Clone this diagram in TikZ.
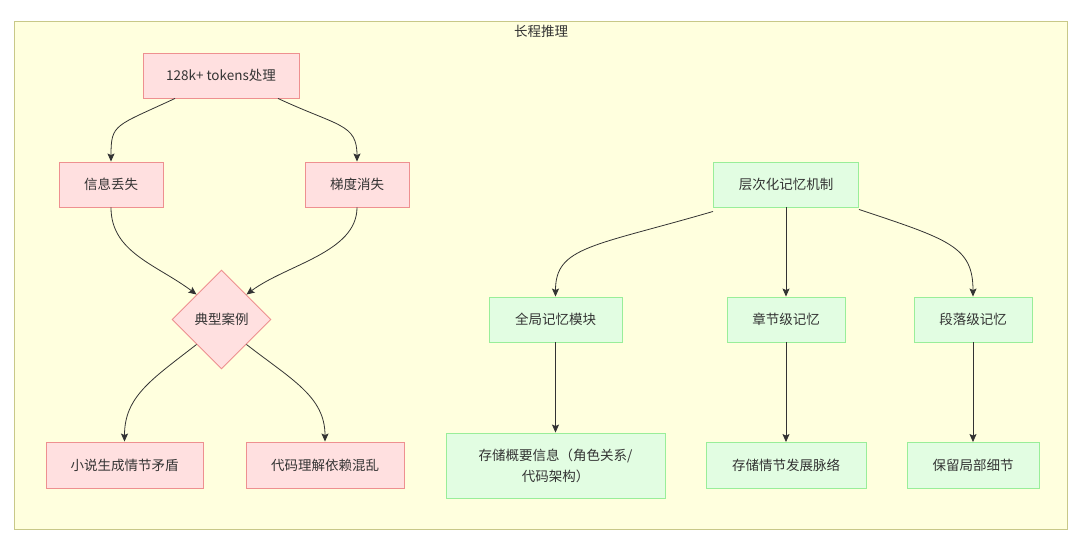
\documentclass[tikz,border=0pt]{standalone}
\usepackage{fontspec}
\setmainfont{Noto Sans CJK SC}
\usepackage{xcolor}
\usetikzlibrary{shapes.geometric, arrows.meta}

\definecolor{clusterfill}{HTML}{FFFFDE}
\definecolor{clusterline}{HTML}{C8C888}
\definecolor{redfill}{HTML}{FFE0E0}
\definecolor{redline}{HTML}{EE9090}
\definecolor{greenfill}{HTML}{E2FDE2}
\definecolor{greenline}{HTML}{99EE99}
\definecolor{ink}{HTML}{333333}

\begin{document}
\begin{tikzpicture}[x=1pt, y=-1pt,
    redbox/.style={draw=redline, fill=redfill, line width=0.9pt, inner sep=0pt,
        minimum height=45pt, text=ink, font=\fontsize{13.5}{21}\selectfont},
    greenbox/.style={draw=greenline, fill=greenfill, line width=0.9pt, inner sep=0pt,
        minimum height=45pt, text=ink, font=\fontsize{13.5}{21}\selectfont},
    flow/.style={draw=ink, line width=0.8pt, -{Stealth[length=8pt, width=7pt, inset=1.5pt]}}]
    \useasboundingbox (0,0) rectangle (1080,541);

    % cluster
    \draw[clusterline, fill=clusterfill, line width=0.9pt] (14.5, 21.5) rectangle (1067.5, 529.5);
    \node[text=ink, font=\fontsize{13.5}{16}\selectfont] (title) at (541, 31) {长程推理};

    % problems
    \node[redbox, minimum width=156pt] (tokens) at (221, 75.5) {128k+ tokens处理};
    \node[redbox, minimum width=104pt] (loss) at (111, 184.5) {信息丢失};
    \node[redbox, minimum width=104pt] (vanish) at (357, 184.5) {梯度消失};
    \node[redbox, diamond, aspect=1, minimum size=99pt] (cases) at (221.5, 319.5) {典型案例};
    \node[redbox, minimum width=157pt, minimum height=46pt] (novel) at (124.5, 465) {小说生成情节矛盾};
    \node[redbox, minimum width=158pt, minimum height=46pt] (code) at (325, 465) {代码理解依赖混乱};

    % memory
    \node[greenbox, minimum width=145pt] (memory) at (786, 184.5) {层次化记忆机制};
    \node[greenbox, minimum width=133pt] (global) at (555.5, 319.5) {全局记忆模块};
    \node[greenbox, minimum width=118pt] (chapter) at (786, 319.5) {章节级记忆};
    \node[greenbox, minimum width=118pt] (para) at (973, 319.5) {段落级记忆};
    \node[greenbox, minimum width=219pt, minimum height=65pt, align=center] (summary) at (555.5, 465.5) {存储概要信息（角色关系/\\代码架构）};
    \node[greenbox, minimum width=160pt, minimum height=46pt] (chapterbox) at (786, 465.5) {存储情节发展脉络};
    \node[greenbox, minimum width=132pt, minimum height=46pt] (parabox) at (973, 465.5) {保留局部细节};

    \draw[flow] ([xshift=-46pt]tokens.south) .. controls +(-60,28) and +(0,-38) .. (loss.north);
    \draw[flow] ([xshift=57pt]tokens.south) .. controls +(60,28) and +(0,-38) .. (vanish.north);
    \draw[flow] (loss.south) .. controls +(0,45) and +(-40,-30) .. (cases.north west);
    \draw[flow] (vanish.south) .. controls +(0,45) and +(40,-30) .. (cases.north east);
    \draw[flow] (cases.south west) .. controls +(-45,35) and +(0,-45) .. (novel.north);
    \draw[flow] (cases.south east) .. controls +(45,35) and +(0,-45) .. (code.north);

    \draw[flow] ([yshift=-4pt]memory.south west) .. controls +(-120,35) and +(0,-50) .. (global.north);
    \draw[flow] (memory.south) -- (chapter.north);
    \draw[flow] ([yshift=-2pt]memory.south east) .. controls +(90,30) and +(0,-50) .. (para.north);
    \draw[flow] (global.south) -- (summary.north);
    \draw[flow] (chapter.south) -- (chapterbox.north);
    \draw[flow] (para.south) -- (parabox.north);
\end{tikzpicture}
\end{document}
